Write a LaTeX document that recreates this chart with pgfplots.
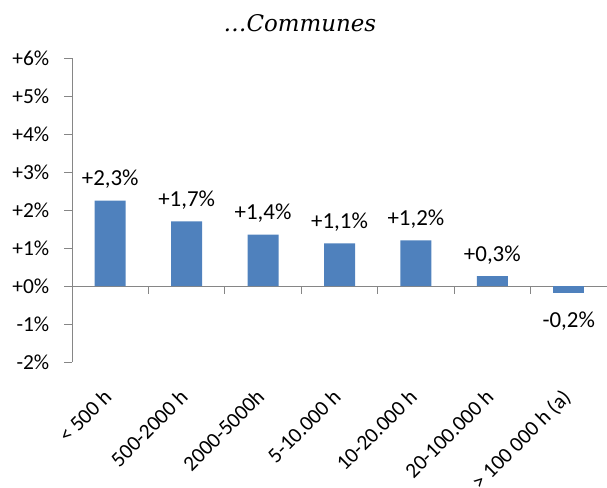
\documentclass[border=0pt]{standalone}
\usepackage{fontspec}
\setmainfont{Carlito}
\newfontfamily\titlefont{DejaVu Serif}
\usepackage{pgfplots}
\usepackage{pgfplotstable}
\pgfplotsset{compat=1.18}
\definecolor{barblue}{HTML}{4F81BD}
\definecolor{axisgray}{HTML}{868686}
\pgfplotstableread{
x y lab
0 2.25 +2,3
1 1.70 +1,7
2 1.35 +1,4
3 1.12 +1,1
4 1.20 +1,2
5 0.26 +0,3
}\postab
\pgfplotstableread{
x y lab
6 -0.19 -0,2
}\negtab
\begin{document}
\begin{tikzpicture}
\begin{axis}[
  scale only axis, width=535bp, height=304bp,
  xmin=-0.5, xmax=6.5, ymin=-2, ymax=6,
  axis x line=middle, axis y line=left,
  axis line style={-, draw=axisgray, line width=0.8bp},
  tick align=outside,
  major tick length=7.5bp, minor tick length=7.5bp,
  xtick={0,...,6},
  xticklabels={{< 500 h},{500-2000 h},{2000-5000h},{5-10.000 h},{10-20.000 h},{20-100.000 h},{> 100 000 h (a)}},
  major x tick style={draw=none},
  minor xtick={-0.5,0.5,...,6.5},
  minor x tick style={draw=axisgray, line width=0.8bp},
  ytick={-2,...,6},
  yticklabels={-2\%,-1\%,+0\%,+1\%,+2\%,+3\%,+4\%,+5\%,+6\%},
  y tick style={draw=axisgray, line width=0.8bp},
  tick label style={font=\fontsize{21.5}{25}\selectfont},
  xticklabel style={xshift=-8bp, yshift=-94bp, rotate=45, anchor=north east, inner sep=0pt},
  yticklabel style={anchor=east, inner sep=0pt, xshift=-15bp},
  ybar, bar width=31bp, bar shift=0pt,
  clip=false,
]
\addplot[fill=barblue, draw=none, nodes near coords={\pgfplotspointmeta\%}, point meta=explicit symbolic,
  every node near coord/.style={anchor=base, yshift=15bp, font=\fontsize{23}{27}\selectfont, inner sep=0pt}]
  table[x=x, y=y, meta=lab] {\postab};
\addplot[fill=barblue, draw=none, nodes near coords={\pgfplotspointmeta\%}, point meta=explicit symbolic,
  every node near coord/.style={anchor=base, yshift=-34bp, font=\fontsize{23}{27}\selectfont, inner sep=0pt}]
  table[x=x, y=y, meta=lab] {\negtab};
\coordinate (bl) at (rel axis cs:0,0);
\end{axis}
\node[font=\titlefont\itshape\fontsize{23}{27}\selectfont, anchor=base] at ([shift={(228bp,330bp)}]bl) {…Communes};
\pgfresetboundingbox
\path ([shift={(-72bp,-126bp)}]bl) rectangle ([shift={(535bp,362bp)}]bl);
\end{tikzpicture}
\end{document}
